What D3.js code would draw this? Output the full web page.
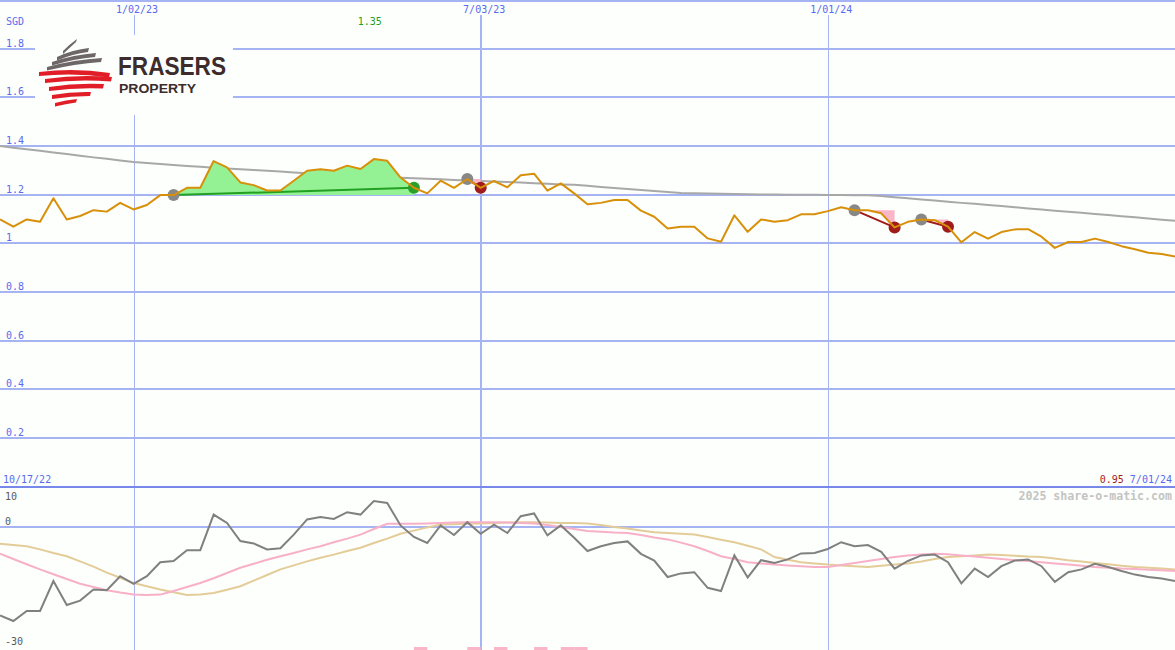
<!DOCTYPE html>
<html><head><meta charset="utf-8">
<script src="https://cdn.jsdelivr.net/npm/d3@7"></script>
<style>html,body{margin:0;padding:0;background:#fcfffc;overflow:hidden}svg{display:block}</style>
</head><body><svg id="c" width="1175" height="650"></svg>
<script>
// ---- data (weekly closes, index 0..88) ----
const price = [1.098,1.068,1.098,1.088,1.185,1.098,1.112,1.136,1.13,1.166,
  1.139,1.157,1.198,1.198,1.228,1.228,1.338,1.312,1.25,1.239,
  1.217,1.217,1.257,1.298,1.304,1.298,1.319,1.305,1.346,1.339,
  1.27,1.228,1.205,1.257,1.228,1.264,1.228,1.256,1.23,1.28,
  1.286,1.216,1.246,1.205,1.16,1.166,1.178,1.178,1.134,1.109,
  1.061,1.068,1.068,1.02,1.006,1.115,1.047,1.098,1.088,1.095,
  1.119,1.119,1.132,1.148,1.136,1.136,1.123,1.065,1.088,1.098,
  1.095,1.068,1.004,1.046,1.019,1.046,1.057,1.058,1.027,0.981,
  1.005,1.005,1.019,1.005,0.988,0.975,0.961,0.956,0.945];
const longMA = [1.400,1.393,1.386,1.380,1.373,1.367,1.360,1.353,1.347,1.340,
  1.334,1.330,1.326,1.322,1.318,1.314,1.310,1.307,1.304,1.301,
  1.298,1.295,1.291,1.288,1.285,1.283,1.280,1.277,1.275,1.272,
  1.269,1.267,1.265,1.263,1.260,1.258,1.256,1.254,1.252,1.250,
  1.247,1.245,1.242,1.240,1.236,1.231,1.227,1.223,1.219,1.215,
  1.211,1.207,1.206,1.205,1.204,1.202,1.201,1.200,1.200,1.199,
  1.199,1.199,1.198,1.198,1.197,1.197,1.194,1.189,1.185,1.180,
  1.176,1.171,1.166,1.162,1.157,1.153,1.148,1.143,1.139,1.134,
  1.130,1.125,1.120,1.116,1.111,1.107,1.102,1.097,1.093];
const momentum = [-22.1,-23.5,-21,-21,-13.5,-19.5,-18.4,-15.6,-15.8,-12.3,
  -14.2,-12.3,-8.8,-8.5,-5.8,-5.8,3.1,1,-3.5,-4.1,
  -5.6,-5.3,-1.9,1.9,2.5,2,3.7,3.1,6.5,6,
  0.4,-2.5,-4,0.4,-2,1.2,-1.7,0.6,-1.5,2.7,
  3.4,-2.1,0.4,-2.7,-6,-4.8,-4,-3.6,-6.7,-8.4,
  -12.5,-11.6,-11.3,-15.2,-16,-7.1,-12.6,-8.3,-9,-8.1,
  -6.6,-6.5,-5.5,-3.8,-4.8,-4.5,-6.2,-10.4,-8.5,-7.1,
  -6.9,-8.8,-14.1,-10.4,-12.5,-9.8,-8.4,-8.1,-9.8,-13.7,
  -11.3,-10.6,-9.2,-10,-11,-11.9,-12.5,-12.9,-13.5];
const momPink = [-6.7,-8,-9.3,-10.6,-11.8,-13,-14.2,-15,-15.8,-16.4,
  -16.9,-17,-16.9,-16,-15,-14,-12.8,-11.5,-10.2,-9.2,
  -8.2,-7.3,-6.5,-5.6,-4.8,-3.8,-2.9,-1.9,-0.5,0.8,
  0.8,0.8,0.9,1.0,1.1,1.2,1.2,1.2,1.1,1.0,
  0.9,0.5,0,-0.5,-1,-1.2,-1.4,-1.5,-2,-2.6,
  -3.1,-3.9,-4.8,-6,-7.3,-8,-8.8,-9.1,-9.4,-9.6,
  -9.8,-10,-10,-9.5,-9,-8.5,-8,-7.5,-7.1,-6.9,
  -6.7,-6.8,-7.1,-7.4,-7.7,-8,-8.3,-8.5,-8.8,-9.1,
  -9.4,-9.7,-10,-10.2,-10.4,-10.5,-10.7,-10.8,-11];
const momTan = [-4.2,-4.5,-4.8,-5.6,-6.5,-7.3,-8.6,-9.9,-11.4,-12.7,
  -14,-14.8,-15.6,-16.3,-17,-16.9,-16.5,-15.7,-14.8,-13.4,
  -12,-10.6,-9.6,-8.6,-7.7,-6.9,-6,-5.2,-4,-2.9,
  -1.7,-0.9,-0.1,0.6,0.7,0.8,0.9,1.0,1.1,1.2,
  1.2,1.1,1.0,1.0,0.9,0.5,0,-0.4,-0.9,-1.3,
  -1.5,-1.7,-1.9,-2.5,-3.2,-3.8,-4.7,-5.6,-7.5,-8.2,
  -8.8,-9.1,-9.4,-9.6,-9.8,-10,-9.7,-9.4,-9.1,-8.6,
  -8,-7.5,-7.3,-7.1,-6.9,-7,-7.2,-7.4,-7.5,-7.9,
  -8.3,-8.6,-9,-9.3,-9.7,-10,-10.2,-10.4,-10.6];
const dateTickIdx = [10, 36, 62];
const dateTickLabels = ["1/02/23", "7/03/23", "1/01/24"];
const dateTickWidth = [1, 2, 1];
const priceTicks = [0.2, 0.4, 0.6, 0.8, 1, 1.2, 1.4, 1.6, 1.8];
const priceTickLabels = ["0.2", "0.4", "0.6", "0.8", "1", "1.2", "1.4", "1.6", "1.8"];
const lowerTickLabels = ["10", "0", "-30"];
const tradeEntries = [13, 35, 64, 69];
const tradeExits = [31, 36, 67, 71];
const signalIdx = [31, 35, 37, 40, 42, 43];
const currency = "SGD", startLabel = "10/17/22", endLabel = "7/01/24",
      lastPriceLabel = "0.95", highLabel = "1.35", highIdx = 28,
      watermark = "2025 share-o-matic.com";

// ---- drawing ----
const W = 1175, H = 650;
const svg = d3.select("#c");
const x = d3.scaleLinear().domain([0, price.length - 1]).range([0, W]);
const y = d3.scaleLinear().domain([0, 2]).range([486.5, 0]);
const yL = d3.scaleLinear().domain([-30, 10]).range([647, 487]);

const GRID = "#a6b4f4", BLUE = "#5a6af0", MONO = "'DejaVu Sans Mono', monospace";

svg.append("rect").attr("width", W).attr("height", H).attr("fill", "#fcfffc");

const grid = svg.append("g").attr("shape-rendering", "crispEdges");
grid.append("line").attr("x1", 0).attr("x2", W).attr("y1", 1).attr("y2", 1)
  .attr("stroke", GRID).attr("stroke-width", 2);
grid.selectAll(".hg").data(priceTicks).join("line")
  .attr("x1", 0).attr("x2", W).attr("y1", d => Math.round(y(d))).attr("y2", d => Math.round(y(d)))
  .attr("stroke", GRID).attr("stroke-width", 2);
grid.selectAll(".vg").data(dateTickIdx).join("line")
  .attr("x1", d => Math.round(x(d))).attr("x2", d => Math.round(x(d)))
  .attr("y1", 15).attr("y2", H)
  .attr("stroke", GRID).attr("stroke-width", (d, i) => dateTickWidth[i]);
grid.append("line").attr("x1", 0).attr("x2", W).attr("y1", Math.round(yL(0))).attr("y2", Math.round(yL(0)))
  .attr("stroke", GRID).attr("stroke-width", 2);
grid.append("line").attr("x1", 0).attr("x2", W).attr("y1", Math.round(y(0))).attr("y2", Math.round(y(0)))
  .attr("stroke", "#7888ea").attr("stroke-width", 2);

// logo
const logo = svg.append("g");
logo.append("rect").attr("x", 35).attr("y", 35).attr("width", 198).attr("height", 80).attr("fill", "#fdfffd");
function band(x1, y1, x2, y2, t1, t2, bow) {
  const mx = (x1 + x2) / 2, my = (y1 + y2) / 2 - bow;
  return `M${x1},${y1} Q${mx},${my} ${x2},${y2} L${x2 - 1},${y2 + t2} Q${mx},${my + (t1 + t2) / 2 + 0.5} ${x1},${y1 + t1} Z`;
}
const greyBands = [[63,51,77,39,3,3,1],[57,57,89,48,3.5,4,3],[52,62,96,53,3.5,4,3],[47,67,102,58,3.5,4,3]];
const redBands = [[39,72,110,73,4,4.5,5],[45,79,112,77,4,4.5,4],[49,87,104,84,4,4.5,3],[52,95,91,92,4,4,2],[55,103,77,99,3.5,3.5,1]];
logo.selectAll(".gb").data(greyBands).join("path").attr("d", d => band(...d)).attr("fill", "#6e6767");
logo.selectAll(".rb").data(redBands).join("path").attr("d", d => band(...d)).attr("fill", "#e11e28");
logo.append("text").attr("x", 118).attr("y", 74.5).text("FRASERS")
  .attr("font-family", "'Liberation Sans Narrow', 'Liberation Sans', sans-serif").attr("font-weight", "bold").attr("font-size", 25)
  .attr("textLength", 108).attr("lengthAdjust", "spacingAndGlyphs").attr("fill", "#3d2c2c");
logo.append("text").attr("x", 119).attr("y", 92.6).text("PROPERTY")
  .attr("font-family", "'Liberation Sans Narrow', 'Liberation Sans', sans-serif").attr("font-weight", "bold").attr("font-size", 13.5)
  .attr("textLength", 77).attr("lengthAdjust", "spacingAndGlyphs").attr("fill", "#3d2c2c");

// labels
const txt = svg.append("g").attr("font-family", MONO).attr("font-size", 10);
txt.selectAll(".yl").data(priceTicks).join("text")
  .attr("x", 6).attr("y", d => y(d) - 2).attr("fill", BLUE)
  .text((d, i) => priceTickLabels[i]);
txt.selectAll(".xl").data(dateTickIdx).join("text")
  .attr("x", d => x(d) + 3.5).attr("y", 12.5).attr("text-anchor", "middle").attr("fill", BLUE)
  .text((d, i) => dateTickLabels[i]);
txt.append("text").attr("x", 6).attr("y", 24.5).attr("fill", BLUE).text(currency);
txt.append("text").attr("x", x(highIdx) - 4).attr("y", 24.5).attr("text-anchor", "middle")
  .attr("fill", "#22a022").text(highLabel);
txt.append("text").attr("x", 3).attr("y", 483).attr("fill", BLUE).text(startLabel);
const endT = txt.append("text").attr("x", 1172).attr("y", 483).attr("text-anchor", "end");
endT.append("tspan").attr("fill", "#a01c1c").text(lastPriceLabel + " ");
endT.append("tspan").attr("fill", BLUE).text(endLabel);
txt.append("text").attr("x", 1172).attr("y", 500).attr("text-anchor", "end")
  .attr("font-size", 11.6).attr("font-weight", "bold").attr("fill", "#c4c4c4").text(watermark);
const lowerVals = [10, 0, -30];
txt.selectAll(".ll").data(lowerVals).join("text")
  .attr("x", 5).attr("y", d => d === 10 ? yL(d) + 13 : yL(d) - 2)
  .attr("fill", "#5a5a5a").text((d, i) => lowerTickLabels[i]);

// long moving average
const idx = d3.range(price.length);
const line = (arr, sc) => d3.line().x(i => x(i)).y(i => sc(arr[i]))(idx);
svg.append("path").attr("d", line(longMA, y)).attr("fill", "none")
  .attr("stroke", "#a8a8a8").attr("stroke-width", 2);

// trades
const tr = svg.append("g");
tradeEntries.forEach((e, k) => {
  const xEnd = tradeExits[k];
  const ep = price[e], xp = price[xEnd], win = xp > ep;
  const seg = d3.range(e, xEnd + 1);
  const area = d3.area().x(i => x(i)).y0(y(ep))
    .y1(i => y(win ? Math.max(price[i], ep) : Math.min(price[i], ep)));
  tr.append("path").attr("d", area(seg)).attr("fill", win ? "#94f294" : "#f8b6c8");
  tr.append("line").attr("x1", x(e)).attr("y1", y(ep)).attr("x2", x(xEnd)).attr("y2", y(xp))
    .attr("stroke", win ? "#22a022" : "#a01c1c").attr("stroke-width", 2);
});
tr.selectAll(".en").data(tradeEntries).join("circle")
  .attr("cx", d => x(d)).attr("cy", d => y(price[d])).attr("r", 6).attr("fill", "#888888");
tr.selectAll(".ex").data(tradeExits).join("circle")
  .attr("cx", d => x(d)).attr("cy", d => y(price[d])).attr("r", 6)
  .attr("fill", (d, k) => price[d] > price[tradeEntries[k]] ? "#2aa02a" : "#a01c1c");

// price line
svg.append("path").attr("d", line(price, y)).attr("fill", "none")
  .attr("stroke", "#d8900a").attr("stroke-width", 2).attr("stroke-linejoin", "round");

// lower pane
svg.append("path").attr("d", line(momTan, yL)).attr("fill", "none").attr("stroke", "#e4cc98").attr("stroke-width", 2);
svg.append("path").attr("d", line(momPink, yL)).attr("fill", "none").attr("stroke", "#f8b0c8").attr("stroke-width", 2);
svg.append("path").attr("d", line(momentum, yL)).attr("fill", "none").attr("stroke", "#808080").attr("stroke-width", 2);
svg.selectAll(".sig").data(signalIdx).join("rect")
  .attr("x", d => x(d)).attr("width", d => x(d + 1) - x(d))
  .attr("y", 647).attr("height", 3).attr("fill", "#f8b6c8");
</script></body></html>
